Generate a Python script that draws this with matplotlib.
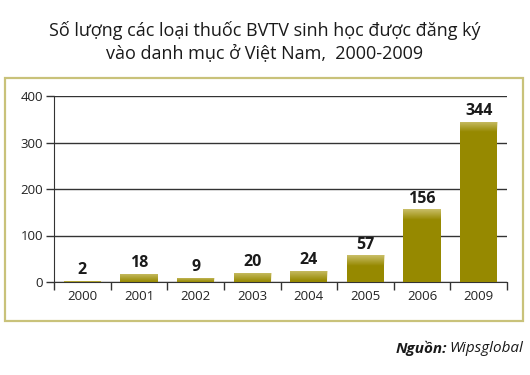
import matplotlib
matplotlib.use("Agg")
import matplotlib.pyplot as plt
from matplotlib.patches import Rectangle
import numpy as np

plt.rcParams['font.family'] = ['Open Sans', 'DejaVu Sans']

years = ["2000", "2001", "2002", "2003", "2004", "2005", "2006", "2009"]
counts = [2, 18, 9, 20, 24, 57, 156, 344]
yticks = [0, 100, 200, 300, 400]

W, H = 530, 375
fig = plt.figure(figsize=(W / 100, H / 100), dpi=100)

# outer frame
fig.patches.append(Rectangle((5 / W, 1 - 321 / H), 518 / W, 243 / H,
                             transform=fig.transFigure, fill=False,
                             edgecolor="#c9c27a", linewidth=1.6))

ax = fig.add_axes([54 / W, 1 - 282 / H, 453 / W, 186 / H])
x = np.arange(len(years))
bar_color = "#968900"
bw = 0.66
bars = ax.bar(x, counts, width=bw, color=bar_color, zorder=3)

# soft top highlight (gradient) on each bar
grad = np.zeros((40, 2, 4))
grad[..., 0] = 0.86
grad[..., 1] = 0.82
grad[..., 2] = 0.55
grad[..., 3] = np.linspace(0.75, 0.0, 40)[:, None]
for xi, v, b in zip(x, counts, bars):
    h = min(v, 22)
    im = ax.imshow(grad, extent=(xi - bw / 2, xi + bw / 2, v - h, v),
                   aspect="auto", origin="upper", zorder=4, interpolation="bilinear")
    im.set_clip_path(b)
    ax.text(xi, v + 6, str(v), ha="center", va="bottom", fontsize=11.5,
            fontweight="bold", color="#1a1a1a", zorder=5)

ax.set_xlim(-0.5, len(years) - 0.5)
ax.set_ylim(0, 400)
ax.set_yticks(yticks)
ax.set_yticklabels([str(t) for t in yticks], fontsize=9.5, color="#222222")
ax.yaxis.grid(True, color="#333333", linewidth=1.0, zorder=0)
ax.set_axisbelow(True)

ax.set_xticks(x)
ax.set_xticklabels(years, fontsize=9.5, color="#222222")
ax.tick_params(axis="x", length=0, pad=6)
ax.set_xticks(np.arange(-0.5, len(years) + 0.5, 1), minor=True)
ax.tick_params(axis="x", which="minor", length=6, width=1.0, color="#333333", direction="out")
ax.tick_params(axis="y", length=6, width=1.0, color="#333333", pad=2)

for s in ["top", "right"]:
    ax.spines[s].set_visible(False)
ax.spines["left"].set_color("#333333")
ax.spines["bottom"].set_color("#333333")

fig.text(0.5, 1 - 30 / H, "Số lượng các loại thuốc BVTV sinh học được đăng ký",
         ha="center", va="center", fontsize=13, color="#1a1a1a")
fig.text(0.5, 1 - 54 / H, "vào danh mục ở Việt Nam,  2000-2009",
         ha="center", va="center", fontsize=13, color="#1a1a1a")

fig.text(447 / W, 1 - 348 / H, "Nguồn:", ha="right", va="center",
         fontsize=11, fontweight="bold", style="italic", color="#1a1a1a")
fig.text(449 / W, 1 - 348 / H, "Wipsglobal", ha="left", va="center",
         fontsize=11, style="italic", color="#1a1a1a")

fig.savefig("out.png", dpi=100)
